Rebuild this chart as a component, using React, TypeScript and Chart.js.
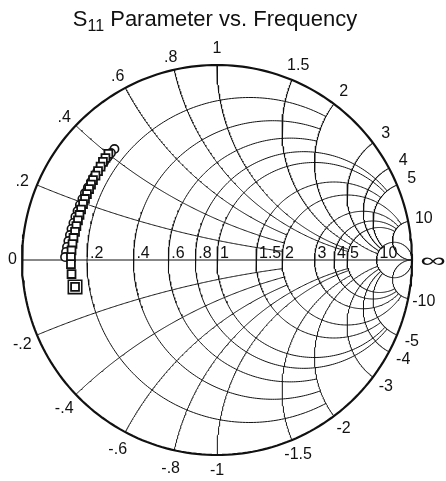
import React, { useEffect, useRef } from "react";
import { Chart, registerables } from "chart.js";

Chart.register(...registerables);

// ---- Title ----
const titleMain = "S";
const titleSub = "11";
const titleRest = " Parameter vs. Frequency";

// ---- Smith chart grid (values and where each circle family stops) ----
const gridValues = [0.2, 0.4, 0.6, 0.8, 1, 1.5, 2, 3, 4, 5, 10];
const gridLimits = [2, 2, 2, 5, 5, 5, 10, 10, 10, 10, Infinity];
const resistanceLabels = [".2", ".4", ".6", ".8", "1", "1.5", "2", "3", "4", "5", "10"];
const reactanceLabels = [".2", ".4", ".6", ".8", "1", "1.5", "2", "3", "4", "5", "10"];
const negReactanceLabels = ["-.2", "-.4", "-.6", "-.8", "-1", "-1.5", "-2", "-3", "-4", "-5", "-10"];
const zeroLabel = "0";
const infLabel = "\u221E";

// ---- S11 data (reflection coefficient, real / imaginary) ----
const s11CircleRe = [-0.526, -0.544, -0.562, -0.579, -0.597, -0.615, -0.631, -0.646, -0.662, -0.677, -0.69, -0.703, -0.715, -0.726, -0.736, -0.746, -0.754, -0.762, -0.769, -0.774, -0.779];
const s11CircleIm = [0.569, 0.549, 0.526, 0.503, 0.477, 0.451, 0.426, 0.4, 0.372, 0.344, 0.313, 0.282, 0.251, 0.221, 0.19, 0.159, 0.128, 0.097, 0.067, 0.041, 0.015];

const s11SquareRe = [-0.557, -0.572, -0.585, -0.597, -0.61, -0.623, -0.636, -0.646, -0.656, -0.667, -0.677, -0.687, -0.697, -0.705, -0.713, -0.721, -0.728, -0.736, -0.741, -0.746, -0.749, -0.749, -0.746, -0.728];
const s11SquareIm = [0.544, 0.523, 0.503, 0.479, 0.456, 0.433, 0.41, 0.387, 0.364, 0.338, 0.313, 0.287, 0.259, 0.231, 0.203, 0.174, 0.144, 0.113, 0.082, 0.049, 0.015, -0.021, -0.072, -0.138];

const markerEndRe = [-0.728];
const markerEndIm = [-0.138];

// ---- geometry helpers ----
type P = { x: number; y: number };

function gamma(r: number, x: number): P {
  const d = (r + 1) * (r + 1) + x * x;
  return { x: (r * r + x * x - 1) / d, y: (2 * x) / d };
}

function resistanceArc(r: number, lim: number): P[] {
  const c = r / (1 + r);
  const rho = 1 / (1 + r);
  let a0 = 0;
  if (isFinite(lim)) {
    const g = gamma(r, lim);
    a0 = Math.atan2(g.y, g.x - c);
  }
  const a1 = 2 * Math.PI - a0;
  const n = 240;
  const pts: P[] = [];
  for (let i = 0; i <= n; i++) {
    const a = a0 + ((a1 - a0) * i) / n;
    pts.push({ x: c + rho * Math.cos(a), y: rho * Math.sin(a) });
  }
  return pts;
}

function norm(a: number) {
  while (a < 0) a += 2 * Math.PI;
  while (a >= 2 * Math.PI) a -= 2 * Math.PI;
  return a;
}

function reactanceArc(x: number, lim: number, sign: number): P[] {
  const cy = 1 / x;
  const rad = 1 / x;
  const g0 = gamma(0, x);
  const a0 = norm(Math.atan2(g0.y - cy, g0.x - 1));
  let a1 = 1.5 * Math.PI;
  if (isFinite(lim)) {
    const g = gamma(lim, x);
    a1 = norm(Math.atan2(g.y - cy, g.x - 1));
  }
  const n = 200;
  const pts: P[] = [];
  for (let i = 0; i <= n; i++) {
    const a = a0 + ((a1 - a0) * i) / n;
    pts.push({ x: 1 + rad * Math.cos(a), y: sign * (cy + rad * Math.sin(a)) });
  }
  return pts;
}

const FONT = '"Liberation Sans", Arial, Helvetica, sans-serif';
const INK = "#111111";

function gridDataset(data: P[], width: number) {
  return {
    type: "line" as const,
    data,
    showLine: true,
    borderColor: INK,
    backgroundColor: INK,
    borderWidth: width,
    pointRadius: 0,
    pointHoverRadius: 0,
    fill: false,
    tension: 0,
    order: 100,
    clip: false as const,
  };
}

const labelPlugin = {
  id: "smithLabels",
  afterDraw(chart: any) {
    const ctx = chart.ctx as CanvasRenderingContext2D;
    const xs = chart.scales.x;
    const ys = chart.scales.y;
    const cx = xs.getPixelForValue(0);
    const cy = ys.getPixelForValue(0);
    const R = xs.getPixelForValue(1) - cx;
    ctx.save();
    ctx.fillStyle = INK;

    // resistance labels on the real axis
    ctx.font = `16px ${FONT}`;
    ctx.textAlign = "left";
    ctx.textBaseline = "alphabetic";
    gridValues.forEach((r, i) => {
      const g = gamma(r, 0);
      ctx.fillText(resistanceLabels[i], xs.getPixelForValue(g.x) + 3, cy - 2);
    });
    ctx.textAlign = "right";
    ctx.textBaseline = "middle";
    ctx.fillText(zeroLabel, xs.getPixelForValue(-1) - 5, cy);

    // reactance labels around the rim
    ctx.textAlign = "center";
    ctx.textBaseline = "middle";
    gridValues.forEach((x, i) => {
      const g = gamma(0, x);
      const off = 16;
      const px = cx + g.x * (R + off);
      const side = g.x < -0.2 ? 3 : 0;
      const py1 = cy - g.y * (R + off) + side;
      const py2 = cy + g.y * (R + off) + side;
      ctx.fillText(reactanceLabels[i], px, py1);
      ctx.fillText(negReactanceLabels[i], px, py2);
    });

    // infinity
    ctx.save();
    ctx.translate(xs.getPixelForValue(1) + 21, cy + 1);
    ctx.scale(1.8, 1);
    ctx.font = `20px ${FONT}`;
    ctx.fillText(infLabel, 0, 0);
    ctx.restore();

    // title
    ctx.textBaseline = "alphabetic";
    ctx.textAlign = "left";
    const big = `22px ${FONT}`;
    const small = `16px ${FONT}`;
    ctx.font = big;
    const w1 = ctx.measureText(titleMain).width;
    const w3 = ctx.measureText(titleRest).width;
    ctx.font = small;
    const w2 = ctx.measureText(titleSub).width;
    const total = w1 + w2 + w3;
    let tx = cx - 2 - total / 2;
    const base = 26;
    ctx.font = big;
    ctx.fillText(titleMain, tx, base);
    tx += w1;
    ctx.font = small;
    ctx.fillText(titleSub, tx, base + 5);
    tx += w2;
    ctx.font = big;
    ctx.fillText(titleRest, tx, base);
    ctx.restore();
  },
};

export default function App() {
  const ref = useRef<HTMLCanvasElement>(null);
  useEffect(() => {
    const canvas = ref.current;
    if (!canvas) return;
    const datasets: any[] = [];
    gridValues.forEach((r, i) => datasets.push(gridDataset(resistanceArc(r, gridLimits[i]), 1)));
    gridValues.forEach((x, i) => {
      datasets.push(gridDataset(reactanceArc(x, gridLimits[i], 1), 1));
      datasets.push(gridDataset(reactanceArc(x, gridLimits[i], -1), 1));
    });
    datasets.push(gridDataset([{ x: -1, y: 0 }, { x: 1, y: 0 }], 1));
    datasets.push(gridDataset(resistanceArc(0, Infinity), 2.2));

    datasets.push({
      type: "scatter",
      data: s11CircleRe.map((v, i) => ({ x: v, y: s11CircleIm[i] })),
      pointStyle: "circle",
      pointRadius: 4.2,
      borderWidth: 1.6,
      borderColor: INK,
      backgroundColor: "#ffffff",
      showLine: false,
      order: 3,
      clip: false,
    });
    datasets.push({
      type: "scatter",
      data: markerEndRe.map((v, i) => ({ x: v, y: markerEndIm[i] })),
      pointStyle: "rect",
      pointRadius: 9.5,
      borderWidth: 1.6,
      borderColor: INK,
      backgroundColor: "#ffffff",
      showLine: false,
      order: 2,
      clip: false,
    });
    datasets.push({
      type: "scatter",
      data: s11SquareRe.map((v, i) => ({ x: v, y: s11SquareIm[i] })),
      pointStyle: "rect",
      pointRadius: 5.6,
      borderWidth: 1.8,
      borderColor: INK,
      backgroundColor: "#ffffff",
      showLine: false,
      order: 1,
      clip: false,
    });

    const chart = new Chart(canvas, {
      type: "scatter",
      data: { datasets },
      options: {
        animation: false,
        responsive: false,
        maintainAspectRatio: false,
        devicePixelRatio: 1,
        events: [],
        layout: { padding: { left: 22, right: 34, top: 65, bottom: 26 } },
        plugins: { legend: { display: false }, tooltip: { enabled: false }, title: { display: false } },
        scales: {
          x: { type: "linear", min: -1, max: 1, display: false },
          y: { type: "linear", min: -1, max: 1, display: false },
        },
      },
      plugins: [labelPlugin],
    } as any);
    return () => chart.destroy();
  }, []);

  return (
    <div style={{ position: "fixed", left: 0, top: 0, width: 446, height: 481, background: "#fff" }}>
      <canvas ref={ref} width={446} height={481} style={{ display: "block", width: 446, height: 481 }} />
    </div>
  );
}
